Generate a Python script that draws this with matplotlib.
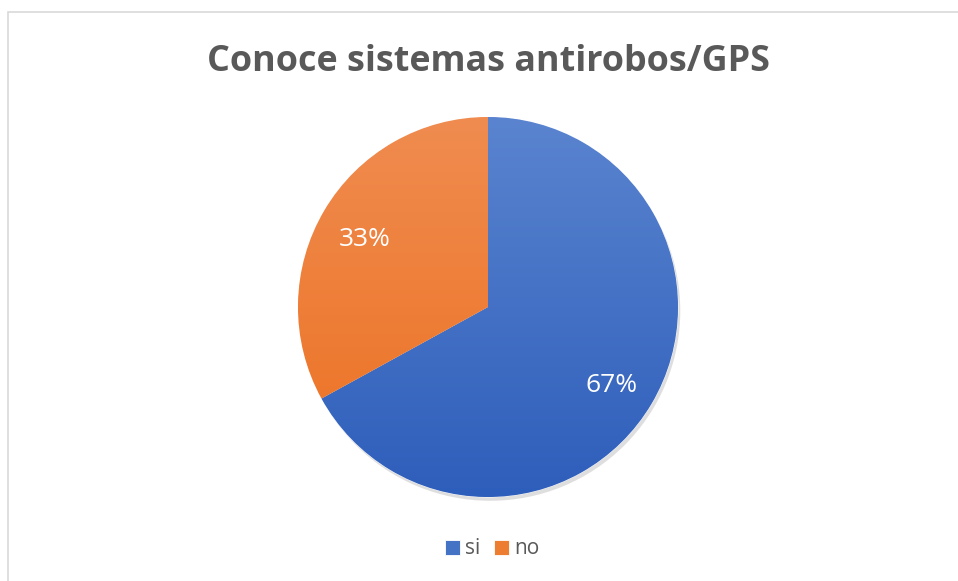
import matplotlib
matplotlib.use("Agg")
import matplotlib.pyplot as plt
import numpy as np
from matplotlib.colors import LinearSegmentedColormap
from matplotlib.patches import Rectangle

title = "Conoce sistemas antirobos/GPS"
categories = ["si", "no"]
values = [67, 33]
labels = ["67%", "33%"]
colors = ["#4472C4", "#ED7D31"]
grad_top = ["#5A84CF", "#F08C50"]
grad_bot = ["#2E5EBB", "#EC7020"]

W, H = 958, 581
fig = plt.figure(figsize=(W / 100, H / 100), dpi=100)
fig.patch.set_facecolor("white")

# chart border
fig.add_artist(Rectangle((7.5 / W, -0.01), 1.0, 1 - 12.5 / H + 0.01,
                         transform=fig.transFigure, fill=False,
                         edgecolor="#D9D9D9", linewidth=1.2))

fig.text(488 / W, 1 - 62 / H, title, ha="center", va="center",
         fontsize=25.8, fontweight="bold", color="#595959", family="Open Sans")

cx, cy, r = 488, 307, 190
ax = fig.add_axes([(cx - r) / W, (H - cy - r) / H, 2 * r / W, 2 * r / H])
ax.set_xlim(-1, 1)
ax.set_ylim(-1, 1)
ax.set_aspect("equal")
ax.axis("off")

# subtle shadow
ax.pie([1], colors=["#BFBFBF"], radius=1.0, center=(0.012, -0.02),
       wedgeprops=dict(linewidth=0, alpha=0.5))
wedges, _ = ax.pie(values, colors=colors, startangle=90, counterclock=False,
                   radius=1.0, wedgeprops=dict(linewidth=0.6, edgecolor="white"))
for w, c1, c2 in zip(wedges, grad_top, grad_bot):
    cmap = LinearSegmentedColormap.from_list("g", [c2, c1])
    grad = np.linspace(0, 1, 256).reshape(-1, 1)
    im = ax.imshow(grad, extent=[-1, 1, -1, 1], origin="lower", cmap=cmap,
                   aspect="auto", zorder=w.get_zorder() + 0.1)
    im.set_clip_path(w)
ax.set_xlim(-1, 1)
ax.set_ylim(-1, 1)

# labels
ang = 90
for v, lab in zip(values, labels):
    mid = np.deg2rad(ang - v / 100 * 360 / 2)
    ang -= v / 100 * 360
    ax.text(0.755 * np.cos(mid), 0.755 * np.sin(mid) - 0.03, lab, ha="center", va="center",
            color="white", fontsize=19, family="Open Sans", zorder=10)

fig.legend(wedges, categories, loc="center", bbox_to_anchor=(492 / W, 1 - 549 / H),
           ncol=2, frameon=False, handlelength=0.72, handleheight=0.72,
           handletextpad=0.25, columnspacing=0.67, labelcolor="#595959",
           prop=dict(family="Open Sans", size=15))
fig.savefig("out.png", dpi=100)
